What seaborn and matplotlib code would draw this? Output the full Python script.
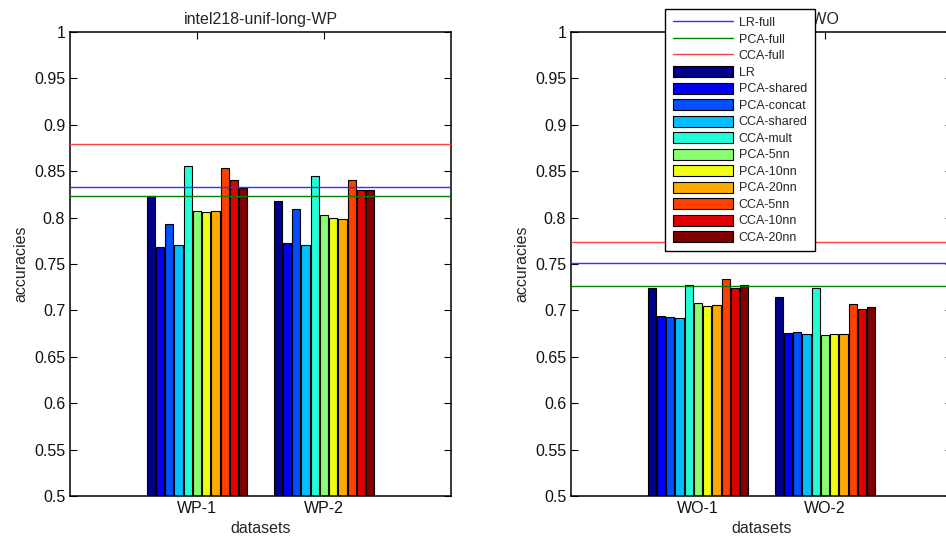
import numpy as np
import pandas as pd
import seaborn as sns
import matplotlib.pyplot as plt
from matplotlib.lines import Line2D
from matplotlib.patches import Patch
from matplotlib.ticker import FuncFormatter

# methods drawn as bars, one per hue
methods = ["LR", "PCA-shared", "PCA-concat", "CCA-shared", "CCA-mult",
           "PCA-5nn", "PCA-10nn", "PCA-20nn", "CCA-5nn", "CCA-10nn", "CCA-20nn"]

# reference lines (full feature sets)
full_names = ["LR-full", "PCA-full", "CCA-full"]

wp_datasets = ["WP-1", "WP-2"]
wp_1 = [0.823, 0.768, 0.793, 0.770, 0.856, 0.807, 0.806, 0.807, 0.853, 0.841, 0.832]
wp_2 = [0.818, 0.773, 0.809, 0.771, 0.845, 0.8025, 0.800, 0.798, 0.841, 0.830, 0.830]
wp_full = [0.833, 0.823, 0.879]

wo_datasets = ["WO-1", "WO-2"]
wo_1 = [0.724, 0.694, 0.693, 0.692, 0.727, 0.708, 0.705, 0.706, 0.734, 0.724, 0.727]
wo_2 = [0.714, 0.676, 0.677, 0.675, 0.7245, 0.673, 0.675, 0.675, 0.7065, 0.701, 0.704]
wo_full = [0.751, 0.726, 0.774]

titles = ["intel218-unif-long-WP", "intel218-unif-long-WO"]

# jet-like colours as in the original
bar_colors = ["#000088", "#0000f0", "#0050ff", "#00c0ff", "#20ffd8", "#88ff70",
              "#f0ff10", "#ffaa00", "#ff4000", "#e00000", "#800000"]
line_colors = ["#3030ff", "#008000", "#ff4040"]

sns.set_theme(style="ticks")
plt.rcParams["font.family"] = ["Liberation Sans", "DejaVu Sans"]


def long_table(datasets, groups):
    rows = []
    for d, vals in zip(datasets, groups):
        for m, v in zip(methods, vals):
            rows.append({"dataset": d, "method": m, "accuracy": v})
    return pd.DataFrame(rows)


fig = plt.figure(figsize=(9.46, 5.46), dpi=100)
ax1 = fig.add_axes([70 / 946, 50 / 546, 381 / 946, 464 / 546])
ax2 = fig.add_axes([571 / 946, 50 / 546, 381 / 946, 464 / 546])

panels = [
    (ax1, wp_datasets, [wp_1, wp_2], wp_full, titles[0]),
    (ax2, wo_datasets, [wo_1, wo_2], wo_full, titles[1]),
]

for ax, ds, groups, full, ttl in panels:
    df = long_table(ds, groups)
    sns.barplot(data=df, x="dataset", y="accuracy", hue="method", order=ds,
                hue_order=methods, palette=bar_colors, saturation=1,
                width=0.8, gap=0.1, edgecolor="black", linewidth=0.8,
                legend=False, ax=ax, errorbar=None)
    for v, c in zip(full, line_colors):
        ax.axhline(v, color=c, lw=1.0, zorder=3)
    ax.set_xlim(-1, 2)
    ax.set_ylim(0.5, 1.0)
    ax.set_yticks(np.arange(0.5, 1.001, 0.05))
    ax.yaxis.set_major_formatter(FuncFormatter(lambda v, p: f"{v:g}"))
    ax.tick_params(direction="in", top=True, right=True, length=5,
                   width=0.8, labelsize=11.5, color="black", labelcolor="#111111")
    for s in ax.spines.values():
        s.set_linewidth(1.1)
        s.set_color("black")
    ax.set_xlabel("datasets", fontsize=11.5)
    ax.set_ylabel("accuracies", fontsize=11.5)
    ax.set_title(ttl, fontsize=11.5)

handles = [Line2D([], [], color=c, lw=1.0) for c in line_colors]
handles += [Patch(facecolor=c, edgecolor="black", linewidth=0.8) for c in bar_colors]
labels = full_names + methods

leg = fig.legend(handles, labels, loc="upper left",
                 bbox_to_anchor=(665 / 946, 1 - 9 / 546), borderaxespad=0,
                 fontsize=9, handlelength=4.8, handleheight=1.0,
                 handletextpad=0.5, labelspacing=0.29, borderpad=0.6,
                 fancybox=False, framealpha=1, edgecolor="black")
leg.get_frame().set_linewidth(1.0)

fig.savefig("out.png", dpi=100)
